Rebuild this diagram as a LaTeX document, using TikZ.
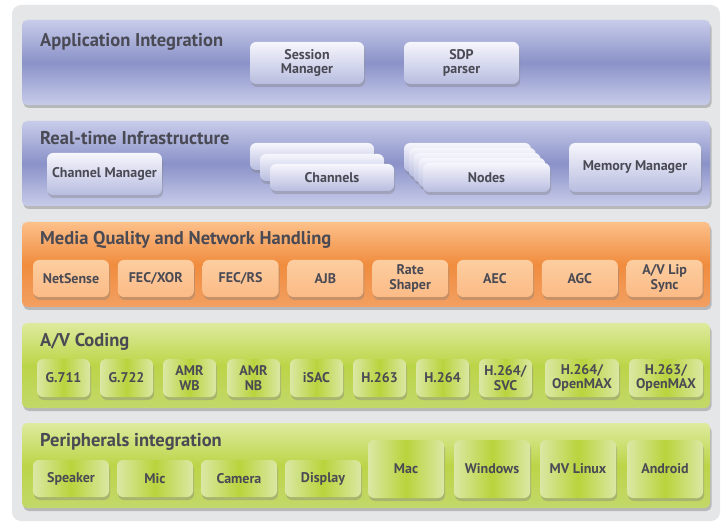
\documentclass[tikz,border=0pt]{standalone}
\usepackage{fontspec}
\setmainfont{PT Sans}
\usetikzlibrary{shadows}
\definecolor{txt}{HTML}{4A4A54}
\definecolor{bgc}{HTML}{E5E6E8}
\definecolor{blT}{HTML}{C8CCEA}
\definecolor{blM}{HTML}{8A92C8}
\definecolor{bbT}{HTML}{F6F6FC}
\definecolor{bbB}{HTML}{B8BDE0}
\definecolor{orT}{HTML}{FCC08A}
\definecolor{orM}{HTML}{F08C3E}
\definecolor{orB}{HTML}{F2A062}
\definecolor{obT}{HTML}{FDCDA0}
\definecolor{obB}{HTML}{FBBB86}
\definecolor{grT}{HTML}{DEEA9E}
\definecolor{grM}{HTML}{BBD548}
\definecolor{grB}{HTML}{C2D86A}
\definecolor{gbE}{HTML}{DAE8A4}
\definecolor{gbM}{HTML}{B8D43C}
\tikzset{
  sz/.style 2 args={minimum width=#1pt, minimum height=#2pt},
  layer/.style={inner sep=0, minimum width=688pt, minimum height=85pt, rounded corners=5pt,
    drop shadow={shadow xshift=1.5pt, shadow yshift=-3pt, opacity=0.45}},
  bluelayer/.style={layer, top color=blT, bottom color=blT, middle color=blM},
  orangelayer/.style={layer, top color=orT, bottom color=orB, middle color=orM},
  greenlayer/.style={layer, top color=grT, bottom color=grB, middle color=grM},
  ltitle/.style={anchor=base west, inner sep=0, text=txt, font=\fontsize{18.5}{19}\selectfont\bfseries},
  boxbase/.style={inner sep=0, rounded corners=6pt, align=center, text=txt,
    font=\fontsize{14}{14.5}\selectfont\bfseries,
    drop shadow={shadow xshift=1pt, shadow yshift=-3pt, opacity=0.38}},
  bbox/.style={boxbase, top color=bbT, bottom color=bbB},
  obox/.style={boxbase, top color=obT, bottom color=obB},
  gbox/.style={boxbase, left color=gbE, right color=gbE, middle color=gbM},
}
\begin{document}
\begin{tikzpicture}[x=1pt,y=-1pt]
\useasboundingbox (0,0) rectangle (724,524);
\fill[white] (0,0) rectangle (724,524);
\node[fill=bgc, inner sep=0, rounded corners=9pt, sz={708}{516}] (bg) at (366,263) {};

% Layer 1
\node[bluelayer] (L1) at (366,62.5) {};
\node[ltitle] (t1) at (40,47) {Application Integration};
\node[bbox, sz={114}{42}] (sm) at (307,63) {Session\\Manager};
\node[bbox, sz={115}{42}] (sdp) at (461.5,63) {SDP\\parser};

% Layer 2
\node[bluelayer] (L2) at (366,163.5) {};
\node[ltitle] (t2) at (40,145) {Real-time Infrastructure};
\node[bbox, sz={115}{42}] (cm) at (104.5,174) {Channel Manager};
\node[bbox, sz={124}{27}] (ch3) at (312,156.5) {};
\node[bbox, sz={124}{27}] (ch2) at (322,167.5) {};
\node[bbox, sz={124}{27}] (ch1) at (332,177.5) {Channels};
\node[bbox, sz={127}{29}] (nd5) at (467.5,157.5) {};
\node[bbox, sz={127}{29}] (nd4) at (472.25,162.5) {};
\node[bbox, sz={127}{29}] (nd3) at (477,167.5) {};
\node[bbox, sz={127}{29}] (nd2) at (481.75,172.5) {};
\node[bbox, sz={127}{29}] (nd1) at (486.5,177.5) {Nodes};
\node[bbox, sz={132}{49}] (mm) at (635,167.5) {Memory Manager};

% Layer 3
\node[orangelayer] (L3) at (366,264.5) {};
\node[ltitle] (t3) at (40,245) {Media Quality and Network Handling};
\node[obox, sz={76}{37}] (ns) at (71,278.5) {NetSense};
\node[obox, sz={76}{37}] (fx) at (155.8,278.5) {FEC/XOR};
\node[obox, sz={76}{37}] (fr) at (240.6,278.5) {FEC/RS};
\node[obox, sz={76}{37}] (ajb) at (325.4,278.5) {AJB};
\node[obox, sz={76}{37}] (rs) at (410.2,278.5) {Rate\\Shaper};
\node[obox, sz={76}{37}] (aec) at (495,278.5) {AEC};
\node[obox, sz={76}{37}] (agc) at (579.8,278.5) {AGC};
\node[obox, sz={76}{37}] (ls) at (664.6,278.5) {A/V Lip\\Sync};

% Layer 4
\node[greenlayer] (L4) at (366,365.5) {};
\node[ltitle] (t4) at (40,346) {A/V Coding};
\node[gbox, sz={53}{38}] (g711) at (63.5,378) {G.711};
\node[gbox, sz={53}{38}] (g722) at (126.5,378) {G.722};
\node[gbox, sz={53}{38}] (amrwb) at (189.5,378) {AMR\\WB};
\node[gbox, sz={53}{38}] (amrnb) at (253.5,378) {AMR\\NB};
\node[gbox, sz={53}{38}] (isac) at (316.5,378) {iSAC};
\node[gbox, sz={53}{38}] (h263) at (379.5,378) {H.263};
\node[gbox, sz={53}{38}] (h264) at (442.5,378) {H.264};
\node[gbox, sz={53}{38}] (svc) at (505.5,378) {H.264/\\SVC};
\node[gbox, sz={74}{38}] (om1) at (582,378) {H.264/\\OpenMAX};
\node[gbox, sz={74}{38}] (om2) at (666,378) {H.263/\\OpenMAX};

% Layer 5
\node[greenlayer] (L5) at (366,465.5) {};
\node[ltitle] (t5) at (40,446) {Peripherals integration};
\node[gbox, sz={76}{37}] (spk) at (71,478.5) {Speaker};
\node[gbox, sz={76}{37}] (mic) at (155,478.5) {Mic};
\node[gbox, sz={76}{37}] (cam) at (239,478.5) {Camera};
\node[gbox, sz={76}{37}] (disp) at (323,478.5) {Display};
\node[gbox, sz={76}{58}] (mac) at (406,469) {Mac};
\node[gbox, sz={76}{58}] (win) at (492,469) {Windows};
\node[gbox, sz={76}{58}] (lin) at (578,469) {MV Linux};
\node[gbox, sz={76}{58}] (and) at (665,469) {Android};
\end{tikzpicture}
\end{document}
